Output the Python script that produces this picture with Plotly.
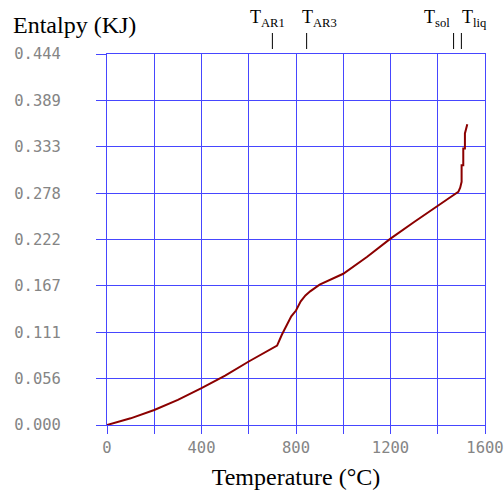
import plotly.graph_objects as go

# Enthalpy curve (temperature in °C, enthalpy in KJ)
temperature = [0, 100, 200, 300, 400, 500, 600, 700, 720, 740, 760, 780, 800, 820,
               840, 860, 900, 1000, 1100, 1200, 1300, 1400, 1450, 1487, 1495, 1501,
               1501, 1508, 1508, 1515, 1515, 1525]
enthalpy = [0.000, 0.008, 0.018, 0.030, 0.044, 0.059, 0.076, 0.091, 0.095, 0.108,
            0.120, 0.130, 0.137, 0.148, 0.155, 0.160, 0.168, 0.181, 0.201, 0.223,
            0.243, 0.263, 0.272, 0.279, 0.284, 0.291, 0.311, 0.311, 0.331, 0.331,
            0.349, 0.360]

# Transformation temperatures marked above the plot
trans_labels = ["T<sub>AR1</sub>", "T<sub>AR3</sub>", "T<sub>sol</sub>", "T<sub>liq</sub>"]
trans_temps = [700, 845, 1467, 1500]
trans_shift = [-5, 13, -17, 13]

y_ticks = [0.0, 0.0555, 0.111, 0.1665, 0.222, 0.2775, 0.333, 0.3885, 0.444]
y_ticktext = ["0.000", "0.056", "0.111", "0.167", "0.222", "0.278", "0.333", "0.389", "0.444"]
x_ticks = [0, 200, 400, 600, 800, 1000, 1200, 1400, 1600]
x_ticktext = ["0", "", "400", "", "800", "", "1200", "", "1600"]

GRID = "rgb(70,70,255)"
serif = "Liberation Serif, Times New Roman, serif"
mono = "DejaVu Sans Mono, monospace"

# plot area in pixels
L, R, T, B = 107, 19, 54, 65
PW, PH = 504 - L - R, 490 - T - B

fig = go.Figure()
fig.add_trace(go.Scatter(x=temperature, y=enthalpy, mode="lines",
                         line=dict(color="#8b0000", width=2), showlegend=False))

for lab, t, dx in zip(trans_labels, trans_temps, trans_shift):
    fig.add_shape(type="line", xref="x", yref="paper", x0=t, x1=t,
                  y0=1 + 5 / PH, y1=1 + 21 / PH, line=dict(color="black", width=1))
    fig.add_annotation(x=t, xref="x", y=1 + (T - 32) / PH, yref="paper", text=lab,
                       showarrow=False, xanchor="center", yanchor="bottom",
                       xshift=dx, font=dict(family=serif, size=18, color="black"))

fig.add_annotation(x=(11 - L) / PW, xref="paper", xanchor="left",
                   y=1 + (T - 25) / PH, yref="paper", yanchor="middle",
                   text="Entalpy (KJ)", showarrow=False,
                   font=dict(family=serif, size=24, color="black"))

fig.update_xaxes(range=[0, 1600], tickvals=x_ticks, ticktext=x_ticktext,
                 showgrid=True, gridcolor=GRID, gridwidth=1, zeroline=False,
                 showline=True, linecolor=GRID, linewidth=1, mirror=True,
                 ticks="outside", ticklen=8, tickcolor=GRID, tickwidth=1,
                 automargin=False,
                 tickfont=dict(family=mono, size=15.5, color="#858585"),
                 title=dict(text="Temperature (°C)", standoff=14,
                            font=dict(family=serif, size=24, color="black")))
fig.update_yaxes(range=[0, 0.444], tickvals=y_ticks, ticktext=y_ticktext,
                 showgrid=True, gridcolor=GRID, gridwidth=1, zeroline=False,
                 showline=True, linecolor=GRID, linewidth=1, mirror=True,
                 ticks="outside", ticklen=10, tickcolor=GRID, tickwidth=1,
                 ticklabelstandoff=32, automargin=False,
                 tickfont=dict(family=mono, size=15.5, color="#858585"))

fig.update_layout(width=504, height=490, plot_bgcolor="white", paper_bgcolor="white",
                  margin=dict(l=L, r=R, t=T, b=B, autoexpand=False))

fig.write_html("out.html")
